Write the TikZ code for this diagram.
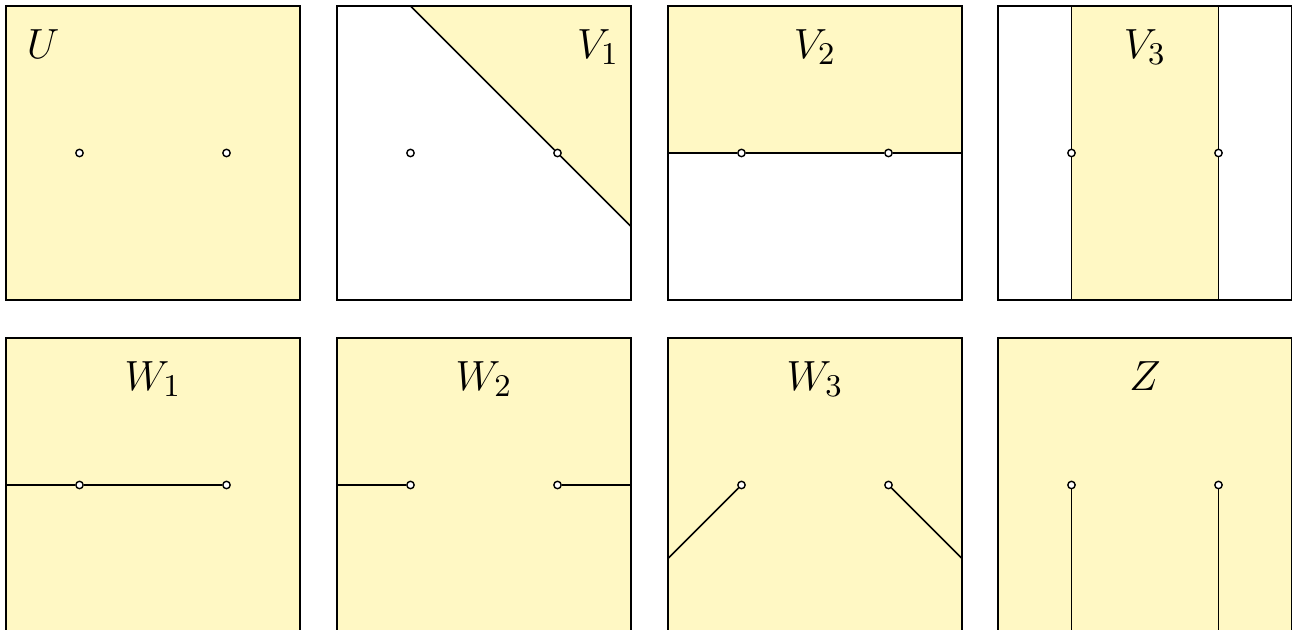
\documentclass[tikz,border=0pt]{standalone}
\usepackage{tikz}

\definecolor{paleyellow}{RGB}{255,248,196}

\begin{document}
\begin{tikzpicture}
    \tikzstyle{frame} = [draw, line width=0.5pt]
    \tikzstyle{region} = [fill=paleyellow]
    \tikzstyle{cut} = [draw, line width=0.45pt]
    \tikzstyle{pt} = [circle, draw, fill=white, inner sep=0pt, minimum size=2.1pt, line width=0.4pt]
    \tikzstyle{lbl} = [anchor=base, font=\fontsize{13}{15}\selectfont]

    \useasboundingbox (0,0) rectangle (12.92,-6.30);
    \clip (0,0) rectangle (12.92,-6.30);

    % top row
    \begin{scope}[shift={(0.06cm,-0.06cm)}, x=2.94cm, y=-2.94cm]
        \fill [region] (0,0) rectangle (1,1);
        \draw [frame] (0,0) rectangle (1,1);
        \node [lbl] (u) at (0.126,0.178) {$U$};
        \node [pt] (ua) at (0.25,0.5) {};
        \node [pt] (ub) at (0.75,0.5) {};
    \end{scope}

    \begin{scope}[shift={(3.37cm,-0.06cm)}, x=2.94cm, y=-2.94cm]
        \coordinate (v1top) at (0.25,0);
        \coordinate (v1side) at (1,0.75);
        \fill [region] (v1top) -- (1,0) -- (v1side) -- cycle;
        \draw [frame] (0,0) rectangle (1,1);
        \node [lbl] (v1) at (0.888,0.178) {$V_1$};
        \node [pt] (v1a) at (0.25,0.5) {};
        \node [pt] (v1b) at (0.75,0.5) {};
        \path [cut] (v1top) -- (v1b) -- (v1side);
    \end{scope}

    \begin{scope}[shift={(6.68cm,-0.06cm)}, x=2.94cm, y=-2.94cm]
        \coordinate (v2l) at (0,0.5);
        \coordinate (v2r) at (1,0.5);
        \fill [region] (0,0) rectangle (1,0.5);
        \draw [frame] (0,0) rectangle (1,1);
        \node [lbl] (v2) at (0.5,0.178) {$V_2$};
        \node [pt] (v2a) at (0.25,0.5) {};
        \node [pt] (v2b) at (0.75,0.5) {};
        \path [cut] (v2l) -- (v2a) -- (v2b) -- (v2r);
    \end{scope}

    \begin{scope}[shift={(9.98cm,-0.06cm)}, x=2.94cm, y=-2.94cm]
        \coordinate (v3lt) at (0.25,0);
        \coordinate (v3lb) at (0.25,1);
        \coordinate (v3rt) at (0.75,0);
        \coordinate (v3rb) at (0.75,1);
        \fill [region] (v3lt) rectangle (v3rb);
        \draw [frame] (0,0) rectangle (1,1);
        \node [lbl] (v3) at (0.5,0.178) {$V_3$};
        \node [pt] (v3a) at (0.25,0.5) {};
        \node [pt] (v3b) at (0.75,0.5) {};
        \path [frame] (v3lt) -- (v3a) -- (v3lb);
        \path [frame] (v3rt) -- (v3b) -- (v3rb);
    \end{scope}

    % bottom row
    \begin{scope}[shift={(0.06cm,-3.38cm)}, x=2.94cm, y=-2.94cm]
        \coordinate (w1l) at (0,0.5);
        \fill [region] (0,0) rectangle (1,1);
        \draw [frame] (0,0) rectangle (1,1);
        \node [lbl] (w1) at (0.5,0.178) {$W_1$};
        \node [pt] (w1a) at (0.25,0.5) {};
        \node [pt] (w1b) at (0.75,0.5) {};
        \path [cut] (w1l) -- (w1a) -- (w1b);
    \end{scope}

    \begin{scope}[shift={(3.37cm,-3.38cm)}, x=2.94cm, y=-2.94cm]
        \coordinate (w2l) at (0,0.5);
        \coordinate (w2r) at (1,0.5);
        \fill [region] (0,0) rectangle (1,1);
        \draw [frame] (0,0) rectangle (1,1);
        \node [lbl] (w2) at (0.5,0.178) {$W_2$};
        \node [pt] (w2a) at (0.25,0.5) {};
        \node [pt] (w2b) at (0.75,0.5) {};
        \path [cut] (w2l) -- (w2a);
        \path [cut] (w2b) -- (w2r);
    \end{scope}

    \begin{scope}[shift={(6.68cm,-3.38cm)}, x=2.94cm, y=-2.94cm]
        \coordinate (w3l) at (0,0.75);
        \coordinate (w3r) at (1,0.75);
        \fill [region] (0,0) rectangle (1,1);
        \draw [frame] (0,0) rectangle (1,1);
        \node [lbl] (w3) at (0.5,0.178) {$W_3$};
        \node [pt] (w3a) at (0.25,0.5) {};
        \node [pt] (w3b) at (0.75,0.5) {};
        \path [cut] (w3l) -- (w3a);
        \path [cut] (w3b) -- (w3r);
    \end{scope}

    \begin{scope}[shift={(9.98cm,-3.38cm)}, x=2.94cm, y=-2.94cm]
        \coordinate (zl) at (0.25,1);
        \coordinate (zr) at (0.75,1);
        \fill [region] (0,0) rectangle (1,1);
        \draw [frame] (0,0) rectangle (1,1);
        \node [lbl] (z) at (0.5,0.178) {$Z$};
        \node [pt] (za) at (0.25,0.5) {};
        \node [pt] (zb) at (0.75,0.5) {};
        \path [cut] (za) -- (zl);
        \path [cut] (zb) -- (zr);
    \end{scope}
\end{tikzpicture}
\end{document}
